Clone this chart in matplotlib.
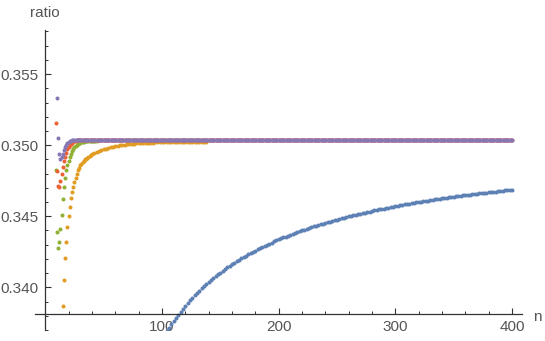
import matplotlib
matplotlib.use("Agg")
import matplotlib.pyplot as plt
from matplotlib.ticker import MultipleLocator, FormatStrFormatter

# --- datos ---
# azul: n = 104..400 de 2 en 2
azul_n = list(range(104, 401, 2))
azul_y = [0.33691, 0.33716, 0.33741,
          0.33764, 0.33787, 0.33809, 0.33830, 0.33851, 0.33870, 0.33890, 0.33908, 0.33926, 0.33943,
          0.33960, 0.33976, 0.33992, 0.34008, 0.34023, 0.34037, 0.34051, 0.34065, 0.34078, 0.34091,
          0.34104, 0.34116, 0.34128, 0.34140, 0.34151, 0.34162, 0.34173, 0.34183, 0.34194, 0.34204,
          0.34214, 0.34223, 0.34232, 0.34242, 0.34251, 0.34259, 0.34268, 0.34276, 0.34284, 0.34292,
          0.34300, 0.34308, 0.34315, 0.34323, 0.34330, 0.34337, 0.34344, 0.34351, 0.34357, 0.34364,
          0.34370, 0.34377, 0.34383, 0.34389, 0.34395, 0.34401, 0.34406, 0.34412, 0.34418, 0.34423,
          0.34428, 0.34434, 0.34439, 0.34444, 0.34449, 0.34454, 0.34459, 0.34463, 0.34468, 0.34473,
          0.34477, 0.34481, 0.34486, 0.34490, 0.34494, 0.34499, 0.34503, 0.34507, 0.34511, 0.34515,
          0.34519, 0.34522, 0.34526, 0.34530, 0.34533, 0.34537, 0.34541, 0.34544, 0.34548, 0.34551,
          0.34554, 0.34558, 0.34561, 0.34564, 0.34567, 0.34570, 0.34573, 0.34577, 0.34580, 0.34583,
          0.34585, 0.34588, 0.34591, 0.34594, 0.34597, 0.34600, 0.34602, 0.34605, 0.34608, 0.34610,
          0.34613, 0.34615, 0.34618, 0.34620, 0.34623, 0.34625, 0.34628, 0.34630, 0.34632, 0.34635,
          0.34637, 0.34639, 0.34642, 0.34644, 0.34646, 0.34648, 0.34650, 0.34652, 0.34655, 0.34657,
          0.34659, 0.34661, 0.34663, 0.34665, 0.34667, 0.34669, 0.34671, 0.34672, 0.34674, 0.34676,
          0.34678, 0.34680, 0.34682, 0.34684, 0.34685, 0.34687]

# naranja: n = 15..40 de 1 en 1, luego 42..138 de 2 en 2
naranja_n = list(range(15, 41)) + list(range(42, 139, 2))
naranja_y = [0.33871, 0.34051, 0.34204, 0.34320, 0.34425, 0.34500, 0.34568, 0.34625, 0.34670,
             0.34705, 0.34738, 0.34770, 0.34798, 0.34822, 0.34842, 0.34858, 0.34870, 0.34881,
             0.34891, 0.34900, 0.34906, 0.34913, 0.34920, 0.34926, 0.34931, 0.34936,
             0.34944, 0.34952, 0.34960, 0.34966, 0.34971, 0.34976, 0.34981, 0.34985, 0.34988,
             0.34992, 0.34995, 0.34998, 0.35000, 0.35003, 0.35005, 0.35007, 0.35009, 0.35011,
             0.35012, 0.35013, 0.35014, 0.35015, 0.35016, 0.35017, 0.35017, 0.35018,
             0.35019, 0.35019, 0.35020, 0.35020, 0.35021, 0.35021, 0.35021, 0.35022, 0.35022,
             0.35022, 0.35023, 0.35023, 0.35023, 0.35023, 0.35024, 0.35024, 0.35024, 0.35024,
             0.35024, 0.35025, 0.35025, 0.35025, 0.35025]

# verde: n = 9..44
verde_n = list(range(9, 45))
verde_y = [0.34824, 0.34386, 0.34280, 0.34320, 0.34413, 0.34510, 0.34618, 0.34703, 0.34770,
           0.34825, 0.34862, 0.34892, 0.34918, 0.34940, 0.34958, 0.34972, 0.34984, 0.34994,
           0.35002, 0.35008, 0.35013, 0.35017, 0.35020, 0.35023, 0.35025, 0.35027, 0.35028,
           0.35028, 0.35029, 0.35029, 0.35029, 0.35030, 0.35030, 0.35030, 0.35030, 0.35030]

# rojo: n = 9..29, despues constante hasta 400
rojo_n = list(range(9, 401))
rojo_inicio = [0.35155, 0.34818, 0.34712, 0.34703, 0.34745, 0.34800, 0.34848, 0.34888, 0.34920,
               0.34948, 0.34970, 0.34988, 0.35000, 0.35010, 0.35018, 0.35024, 0.35028, 0.35031,
               0.35033, 0.35035, 0.35036]
limite = 0.35037
rojo_y = rojo_inicio + [limite] * (len(rojo_n) - len(rojo_inicio))

# morado: n = 10..24, despues constante hasta 400
morado_n = list(range(10, 401))
morado_inicio = [0.35335, 0.35048, 0.34935, 0.34905, 0.34915, 0.34940, 0.34965, 0.34985,
                 0.35000, 0.35012, 0.35020, 0.35026, 0.35030, 0.35033, 0.35035]
morado_y = morado_inicio + [limite] * (len(morado_n) - len(morado_inicio))

series = [(azul_n, azul_y, "#5E81B5"),
          (naranja_n, naranja_y, "#E19C24"),
          (verde_n, verde_y, "#8FB032"),
          (rojo_n, rojo_y, "#EB6235"),
          (morado_n, morado_y, "#8778B3")]

plt.rcParams['font.family'] = ['Liberation Sans', 'DejaVu Sans']

fig = plt.figure(figsize=(5.45, 3.41), dpi=100)
ax = fig.add_axes([35 / 545, 11 / 341, 487 / 545, 300 / 341])

for xs, ys, col in series:
    ax.plot(xs, ys, 'o', color=col, markersize=2.9, markeredgewidth=0)

ax.set_xlim(-8.8, 408.6)
ax.set_ylim(0.3370, 0.3581)

gris = "#333333"
ax.spines['top'].set_visible(False)
ax.spines['right'].set_visible(False)
ax.spines['left'].set_position(('data', 0))
ax.spines['bottom'].set_position(('data', 0.3381))
for s in ['left', 'bottom']:
    ax.spines[s].set_color(gris)
    ax.spines[s].set_linewidth(0.9)

ax.xaxis.set_major_locator(MultipleLocator(100))
ax.xaxis.set_minor_locator(MultipleLocator(20))
ax.yaxis.set_major_locator(MultipleLocator(0.005))
ax.yaxis.set_minor_locator(MultipleLocator(0.001))
ax.yaxis.set_major_formatter(FormatStrFormatter('%.3f'))
ax.set_xticks([100, 200, 300, 400])

ax.tick_params(which='major', direction='in', length=4.5, width=0.8, color=gris,
               labelsize=11, labelcolor="#555555")
ax.tick_params(which='minor', direction='in', length=2.5, width=0.7, color=gris)
ax.tick_params(axis='y', pad=5)
ax.tick_params(axis='x', pad=4)

fig.text(45 / 545, 1 - 13 / 341, "ratio", ha='center', va='center', fontsize=11, color="#555555")
fig.text(537 / 545, 1 - 317 / 341, "n", ha='center', va='center', fontsize=11, color="#555555")

fig.savefig("out.png", dpi=100)
